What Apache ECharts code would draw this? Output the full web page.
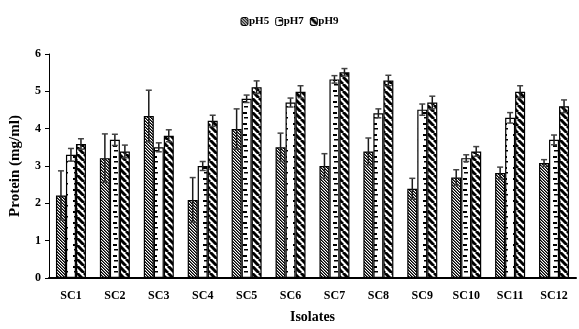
<!DOCTYPE html>
<html><head><meta charset="utf-8">
<script src="https://cdn.jsdelivr.net/npm/echarts@6/dist/echarts.min.js"></script>
<style>html,body{margin:0;padding:0;background:#fff}#c{width:579px;height:329px}</style>
</head><body><div id="c"></div>
<script>
var categories = ['SC1','SC2','SC3','SC4','SC5','SC6','SC7','SC8','SC9','SC10','SC11','SC12'];
var seriesNames = ['pH5','pH7','pH9'];
var ph5 = [2.21,3.21,4.34,2.09,3.99,3.50,3.00,3.39,2.39,2.69,2.81,3.08];
var ph7 = [3.30,3.70,3.50,3.00,4.80,4.70,5.32,4.41,4.51,3.21,4.29,3.70];
var ph9 = [3.59,3.39,3.81,4.21,5.11,4.99,5.51,5.29,4.70,3.39,4.99,4.60];
var ph5Err = [0.66,0.65,0.69,0.60,0.54,0.38,0.33,0.36,0.28,0.21,0.16,0.09];
var ph7Err = [0.17,0.15,0.12,0.12,0.10,0.12,0.10,0.12,0.15,0.09,0.14,0.13];
var ph9Err = [0.14,0.17,0.16,0.15,0.17,0.16,0.10,0.14,0.17,0.13,0.16,0.17];
var yTicks = [0,1,2,3,4,5,6];

function makeCanvas(w,h,draw){var c=document.createElement('canvas');c.width=w;c.height=h;var g=c.getContext('2d');g.fillStyle='#fff';g.fillRect(0,0,w,h);draw(g,w,h);return c;}
// fine diagonal hatch
var pat5 = makeCanvas(3,3,function(g,w,h){
  for(var i=0;i<3;i++){g.fillStyle='#000';g.fillRect(i,i,1,1);g.fillStyle='#666';g.fillRect((i+1)%3,i,1,1);}
});
// dashes
var pat7 = makeCanvas(10,11,function(g){
  g.fillStyle='#000';
  g.fillRect(3,2,4,2);
  g.fillRect(4,7,4,1.5);
});
// thick diagonal stripes
var pat9 = makeCanvas(7,7,function(g){
  g.strokeStyle='#000';g.lineWidth=3;
  for(var k=-7;k<=14;k+=7){g.beginPath();g.moveTo(k,0);g.lineTo(k+7,7);g.stroke();}
});
var patterns=[pat5,pat7,pat9];
var vals=[ph5,ph7,ph9];
var errs=[ph5Err,ph7Err,ph9Err];

var chart = echarts.init(document.getElementById('c'), null, {renderer:'canvas'});
var FONT='"Liberation Serif","Times New Roman",serif';
var BAR_W=10;
var series=[];
seriesNames.forEach(function(n,i){
  series.push({
    name:n,type:'bar',data:vals[i],barWidth:BAR_W,barGap:'0%',
    itemStyle:{color:{image:patterns[i],repeat:'repeat'},borderColor:'#000',borderWidth:1.2},
    animation:false
  });
});
seriesNames.forEach(function(n,i){
  var data=vals[i].map(function(v,j){return [j,v,errs[i][j]];});
  series.push({
    type:'custom',name:n+'err',data:data,z:10,animation:false,silent:true,
    encode:{x:0,y:1},
    renderItem:function(params,api){
      var x=api.value(0),v=api.value(1),e=api.value(2);
      var top=api.coord([x,v+e]);var bot=api.coord([x,v-e]);
      var cx=top[0]+(i-1)*BAR_W;
      var cap=3;
      var st={stroke:'#1a1a1a',lineWidth:1.5};
      return {type:'group',children:[
        {type:'line',shape:{x1:cx,y1:top[1],x2:cx,y2:bot[1]},style:st},
        {type:'line',shape:{x1:cx-cap,y1:top[1],x2:cx+cap,y2:top[1]},style:{stroke:'#444',lineWidth:1.5}},
        {type:'line',shape:{x1:cx-cap,y1:bot[1],x2:cx+cap,y2:bot[1]},style:{stroke:'#444',lineWidth:1.5}}
      ]};
    }
  });
});

chart.setOption({
  animation:false,
  backgroundColor:'#fff',
  legend:{data:seriesNames,top:11,left:'center',itemWidth:7,itemHeight:8,itemGap:6,
    textStyle:{fontFamily:FONT,fontWeight:'bold',fontSize:11,color:'#000',padding:[0,0,0,-4]},
    itemStyle:{borderColor:'#000',borderWidth:1}},
  grid:{left:42,right:3,top:54,bottom:51,containLabel:false},
  xAxis:{type:'category',data:categories,
    name:'Isolates',nameLocation:'middle',nameGap:32,
    nameTextStyle:{fontFamily:FONT,fontWeight:'bold',fontSize:14,color:'#000'},
    axisLine:{lineStyle:{color:'#000',width:2}},axisTick:{show:false},
    axisLabel:{fontFamily:FONT,fontWeight:'bold',fontSize:12,color:'#000',margin:12}},
  yAxis:{type:'value',min:yTicks[0],max:yTicks[yTicks.length-1],interval:1,
    name:'Protein (mg/ml)',nameLocation:'middle',nameGap:26,
    nameTextStyle:{fontFamily:FONT,fontWeight:'bold',fontSize:15,color:'#000'},
    axisLine:{show:true,lineStyle:{color:'#000',width:1}},
    axisTick:{show:true,length:4,lineStyle:{color:'#000'}},
    splitLine:{show:false},
    axisLabel:{fontFamily:FONT,fontWeight:'bold',fontSize:12,color:'#000',margin:8}},
  series:series
});
</script></body></html>
